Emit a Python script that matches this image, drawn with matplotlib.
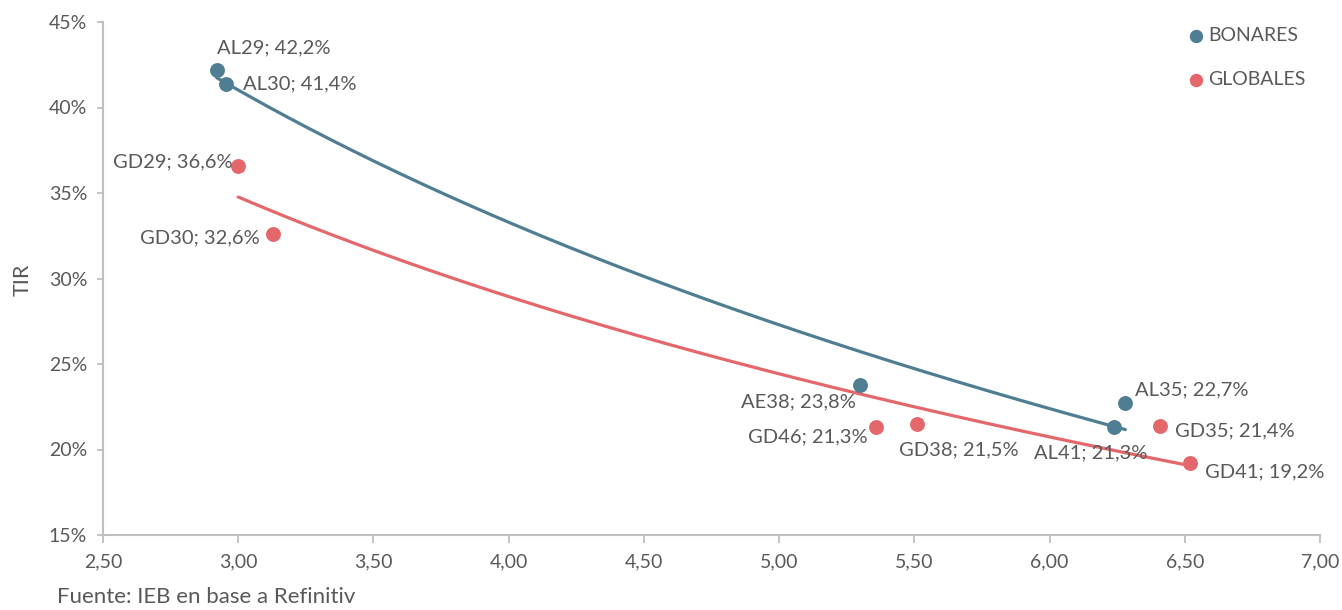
import numpy as np
import matplotlib
matplotlib.use("Agg")
import matplotlib.pyplot as plt
from matplotlib.ticker import FuncFormatter

plt.rcParams['font.family'] = ['Lato', 'DejaVu Sans']

# Data
bonares_names = ["AL29", "AL30", "AE38", "AL41", "AL35"]
bonares_x = [2.92, 2.955, 5.30, 6.24, 6.28]
bonares_y = [42.2, 41.4, 23.8, 21.3, 22.7]

globales_names = ["GD29", "GD30", "GD46", "GD38", "GD35", "GD41"]
globales_x = [3.00, 3.13, 5.36, 5.51, 6.41, 6.52]
globales_y = [36.6, 32.6, 21.3, 21.5, 21.4, 19.2]

x_ticks = [2.5, 3.0, 3.5, 4.0, 4.5, 5.0, 5.5, 6.0, 6.5, 7.0]
y_ticks = [15, 20, 25, 30, 35, 40, 45]

BLUE = "#4F7E93"
RED = "#E3676B"
TXT = "#595959"
AXC = "#BFBFBF"

fig = plt.figure(figsize=(13.42, 6.10), dpi=100)
ax = fig.add_axes([103/1342, 75/610, (1320-103)/1342, (535-22)/610])

def log_fit(x, y):
    x = np.asarray(x); y = np.asarray(y)
    b, a = np.polyfit(np.log(x), y, 1)
    xs = np.linspace(x.min(), x.max(), 200)
    return xs, a + b * np.log(xs)

for xs_, ys_, c in [(bonares_x, bonares_y, BLUE), (globales_x, globales_y, RED)]:
    fx, fy = log_fit(xs_, ys_)
    ax.plot(fx, fy, color=c, lw=2.3, zorder=2, solid_capstyle='round')

ax.scatter(bonares_x, bonares_y, s=115, color=BLUE, zorder=3, label="BONARES", linewidths=0)
ax.scatter(globales_x, globales_y, s=115, color=RED, zorder=3, label="GLOBALES", linewidths=0)

# label placement offsets (pixels) and alignment
offs_b = {"AL29": (0, 22, 'left'), "AL30": (17, 0, 'left'), "AE38": (-4, -17, 'right'),
          "AL41": (-24, -26, 'center'), "AL35": (10, 13, 'left')}
offs_g = {"GD29": (-6, 4, 'right'), "GD30": (-14, -4, 'right'), "GD46": (-9, -10, 'right'),
          "GD38": (42, -26, 'center'), "GD35": (15, -5, 'left'), "GD41": (15, -9, 'left')}

def fmt(v):
    return f"{v:.1f}".replace('.', ',') + "%"

for names, xs_, ys_, offs in [(bonares_names, bonares_x, bonares_y, offs_b),
                              (globales_names, globales_x, globales_y, offs_g)]:
    for n, x, y in zip(names, xs_, ys_):
        dx, dy, ha = offs[n]
        ax.annotate(f"{n}; {fmt(y)}", (x, y), xytext=(dx, dy), textcoords='offset pixels',
                    ha=ha, va='center', fontsize=14.5, color=TXT, zorder=4)

ax.set_xlim(2.5, 7.0)
ax.set_ylim(15, 45)
ax.set_xticks(x_ticks)
ax.set_yticks(y_ticks)
ax.xaxis.set_major_formatter(FuncFormatter(lambda v, p: f"{v:.2f}".replace('.', ',')))
ax.yaxis.set_major_formatter(FuncFormatter(lambda v, p: f"{v:.0f}%"))
ax.tick_params(axis='both', colors=AXC, labelcolor=TXT, labelsize=14, width=1.3)
ax.tick_params(axis='x', length=5.5, pad=8)
ax.tick_params(axis='y', length=4.5, pad=7)
for s in ['top', 'right']:
    ax.spines[s].set_visible(False)
for s in ['left', 'bottom']:
    ax.spines[s].set_color(AXC)
    ax.spines[s].set_linewidth(1.5)

fig.text(23/1342, 1 - 280/610, "TIR", fontsize=15.5, color=TXT, rotation=90,
         ha='center', va='center')

leg = ax.legend(loc='upper right', bbox_to_anchor=(0.998, 1.013), frameon=False, fontsize=14,
                labelcolor=TXT, handlelength=0.7, handletextpad=0.3, labelspacing=1.4,
                markerscale=0.9, borderaxespad=0.2)

fig.text(57/1342, 1 - 597/610, "Fuente: IEB en base a Refinitiv", fontsize=16,
         color=TXT, ha='left', va='center')

fig.savefig("out.png", dpi=100)
